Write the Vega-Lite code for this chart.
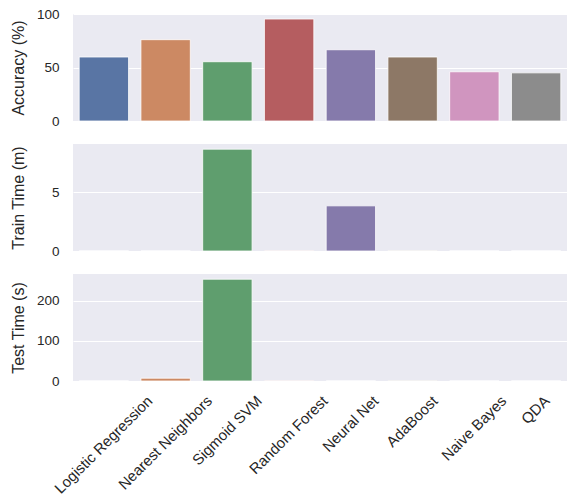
{
  "$schema": "https://vega.github.io/schema/vega-lite/v6.json",
  "background": "white",
  "padding": {"left": 10, "top": 7, "right": 5, "bottom": 5},
  "datasets": {
    "models": [
      {"model": "Logistic Regression", "accuracy": 59.8, "train": 0.01, "test": 0.2},
      {"model": "Nearest Neighbors", "accuracy": 76.0, "train": 0.01, "test": 7.0},
      {"model": "Sigmoid SVM", "accuracy": 55.4, "train": 8.68, "test": 254},
      {"model": "Random Forest", "accuracy": 95.3, "train": 0.02, "test": 0.6},
      {"model": "Neural Net", "accuracy": 66.6, "train": 3.85, "test": 0.3},
      {"model": "AdaBoost", "accuracy": 59.8, "train": 0.02, "test": 0.5},
      {"model": "Naive Bayes", "accuracy": 46.0, "train": 0.01, "test": 0.2},
      {"model": "QDA", "accuracy": 45.0, "train": 0.01, "test": 0.3}
    ]
  },
  "data": {"name": "models"},
  "spacing": 23,
  "bounds": "flush",
  "vconcat": [
    {
      "width": 494,
      "height": 107,
      "mark": {"type": "bar", "stroke": "white", "strokeWidth": 0.8},
      "encoding": {
        "x": {"field": "model", "type": "nominal", "sort": null, "scale": {"paddingInner": 0.2, "paddingOuter": 0.1}, "axis": null},
        "y": {"field": "accuracy", "type": "quantitative", "title": "Accuracy (%)", "scale": {"domain": [0, 100], "nice": false}, "axis": {"values": [0, 50, 100]}},
        "color": {"field": "model", "type": "nominal", "sort": null, "legend": null, "scale": {"range": ["#5975a4", "#cc8963", "#5f9e6e", "#b55d60", "#857aab", "#8d7866", "#d095bf", "#8c8c8c"]}}
      }
    },
    {
      "width": 494,
      "height": 107,
      "mark": {"type": "bar", "stroke": "white", "strokeWidth": 0.8},
      "encoding": {
        "x": {"field": "model", "type": "nominal", "sort": null, "scale": {"paddingInner": 0.2, "paddingOuter": 0.1}, "axis": null},
        "y": {"field": "train", "type": "quantitative", "title": "Train Time (m)", "scale": {"domain": [0, 9.12], "nice": false}, "axis": {"values": [0, 5]}},
        "color": {"field": "model", "type": "nominal", "sort": null, "legend": null, "scale": {"range": ["#5975a4", "#cc8963", "#5f9e6e", "#b55d60", "#857aab", "#8d7866", "#d095bf", "#8c8c8c"]}}
      }
    },
    {
      "width": 494,
      "height": 107,
      "mark": {"type": "bar", "stroke": "white", "strokeWidth": 0.8},
      "encoding": {
        "x": {
          "field": "model", "type": "nominal", "sort": null,
          "scale": {"paddingInner": 0.2, "paddingOuter": 0.1},
          "axis": {
            "title": null,
            "grid": false,
            "labelAngle": -45,
            "labelAlign": "right",
            "labelBaseline": "top",
            "labelFontSize": 15,
            "labelPadding": 12,
            "labelOverlap": false,
            "labelOffset": {
              "condition": [
                {"test": "datum.value === 'Logistic Regression'", "value": 41},
                {"test": "datum.value === 'Nearest Neighbors'", "value": 39},
                {"test": "datum.value === 'Sigmoid SVM'", "value": 27},
                {"test": "datum.value === 'Random Forest'", "value": 31},
                {"test": "datum.value === 'Neural Net'", "value": 20},
                {"test": "datum.value === 'AdaBoost'", "value": 17.5},
                {"test": "datum.value === 'Naive Bayes'", "value": 24.5}
              ],
              "value": 6
            }
          }
        },
        "y": {"field": "test", "type": "quantitative", "title": "Test Time (s)", "scale": {"domain": [0, 267], "nice": false}, "axis": {"values": [0, 100, 200]}},
        "color": {"field": "model", "type": "nominal", "sort": null, "legend": null, "scale": {"range": ["#5975a4", "#cc8963", "#5f9e6e", "#b55d60", "#857aab", "#8d7866", "#d095bf", "#8c8c8c"]}}
      }
    }
  ],
  "config": {
    "font": "Liberation Sans",
    "view": {"fill": "#EAEAF2", "stroke": null},
    "axis": {
      "domain": false,
      "ticks": false,
      "labelColor": "#262626",
      "titleColor": "#262626",
      "labelFontSize": 13.5,
      "titleFontSize": 16,
      "titleFontWeight": "normal",
      "gridColor": "white",
      "gridWidth": 1,
      "labelPadding": 14
    },
    "axisY": {"minExtent": 40, "maxExtent": 40, "titlePadding": 6.7, "labelFlush": false}
  }
}
